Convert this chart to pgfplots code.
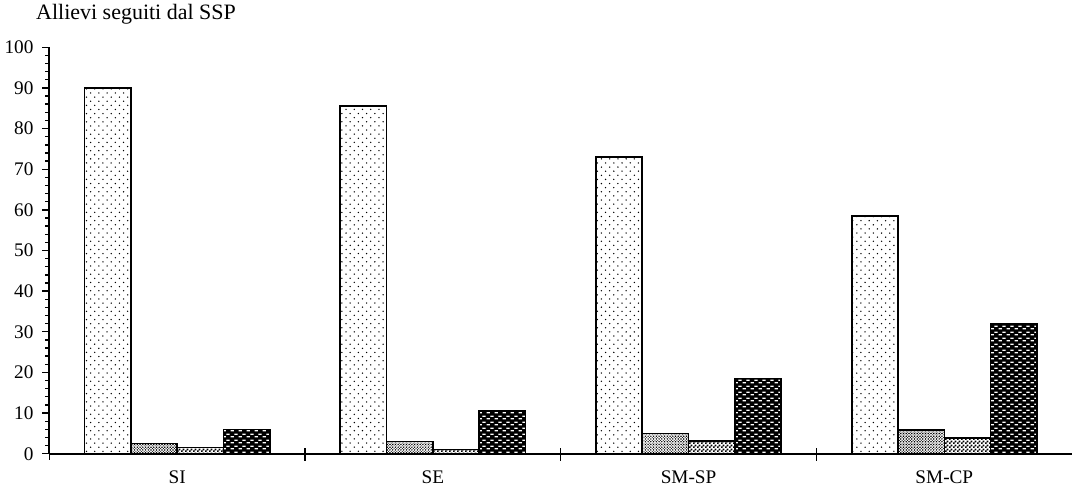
\documentclass[border=0pt]{standalone}
\usepackage{pgfplots}
\pgfplotsset{compat=1.18}
\usepackage{fontspec}
\setmainfont{Liberation Serif}
\usetikzlibrary{patterns}
\pgfdeclarepatternformonly{sparsedots}{\pgfqpoint{-1pt}{-1pt}}{\pgfqpoint{6pt}{6pt}}{\pgfqpoint{6pt}{6pt}}{%
  \pgfpathcircle{\pgfqpoint{0pt}{0pt}}{0.55pt}\pgfpathcircle{\pgfqpoint{3pt}{3pt}}{0.55pt}\pgfusepath{fill}}
\pgfdeclarepatternformonly{densedots}{\pgfqpoint{-1pt}{-1pt}}{\pgfqpoint{3pt}{3pt}}{\pgfqpoint{2pt}{2pt}}{%
  \pgfpathcircle{\pgfqpoint{0pt}{0pt}}{0.6pt}\pgfpathcircle{\pgfqpoint{1pt}{1pt}}{0.4pt}\pgfusepath{fill}}
\pgfdeclarepatternformonly{checker}{\pgfqpoint{0pt}{0pt}}{\pgfqpoint{3pt}{3pt}}{\pgfqpoint{3pt}{3pt}}{%
  \pgfpathrectangle{\pgfqpoint{0pt}{0pt}}{\pgfqpoint{1.5pt}{1.5pt}}\pgfpathrectangle{\pgfqpoint{1.5pt}{1.5pt}}{\pgfqpoint{1.5pt}{1.5pt}}\pgfusepath{fill}}
\pgfdeclarepatternformonly{dashes}{\pgfqpoint{0pt}{0pt}}{\pgfqpoint{6pt}{4pt}}{\pgfqpoint{6pt}{4pt}}{%
  \pgfpathrectangle{\pgfqpoint{0.5pt}{0.5pt}}{\pgfqpoint{2.5pt}{1pt}}\pgfpathrectangle{\pgfqpoint{3.5pt}{2.5pt}}{\pgfqpoint{2.5pt}{1pt}}\pgfusepath{fill}}
\begin{document}
\begin{tikzpicture}
\begin{axis}[
  width=745pt, height=296pt, scale only axis,
  xmin=-0.5, xmax=3.5, ymin=0, ymax=100,
  axis x line=bottom, axis y line=left,
  axis line style={-, line width=1.2pt},
  xtick={0.5,1.5,2.5}, xticklabels={},
  x tick style={line width=1pt, black},
  extra x ticks={0,1,2,3}, extra x tick labels={SI,SE,SM-SP,SM-CP},
  extra x tick style={major tick length=0pt, xticklabel style={yshift=-9pt}},
  yticklabel style={xshift=-3pt},
  ytick={0,10,...,100}, minor y tick num=4,
  tick align=outside, major tick length=5pt, minor tick length=3pt,
  y tick style={line width=1pt, black},
  /pgf/number format/assume math mode=true,
  tick label style={font=\fontsize{14}{16}\selectfont},
  ybar, bar width=0.181,
  clip=false,
]
\addplot[draw=black, line width=1.2pt, bar shift=-0.2715, pattern=sparsedots] coordinates {(0,90) (1,85.5) (2,73) (3,58.5)};
\addplot[draw=black, line width=1.2pt, bar shift=-0.0905, pattern=densedots] coordinates {(0,2.5) (1,3) (2,5) (3,5.8)};
\addplot[draw=black, line width=1.2pt, bar shift=0.0905, pattern=checker] coordinates {(0,1.5) (1,1) (2,3.2) (3,3.8)};
\addplot[draw=black, line width=1.2pt, bar shift=0.2715, fill=black, postaction={pattern=dashes, pattern color=white}] coordinates {(0,6) (1,10.5) (2,18.5) (3,32)};
\end{axis}
\draw[line width=1pt] (0,-4.5pt) -- (0,4.5pt);
\foreach \x in {186.25,372.5,558.75} \draw[line width=1pt] (\x pt,-4.5pt) -- (\x pt,4.5pt);
\node[anchor=base west, font=\fontsize{16}{19}\selectfont] at (-13pt,316pt) {Allievi seguiti dal SSP};
\end{tikzpicture}
\end{document}
